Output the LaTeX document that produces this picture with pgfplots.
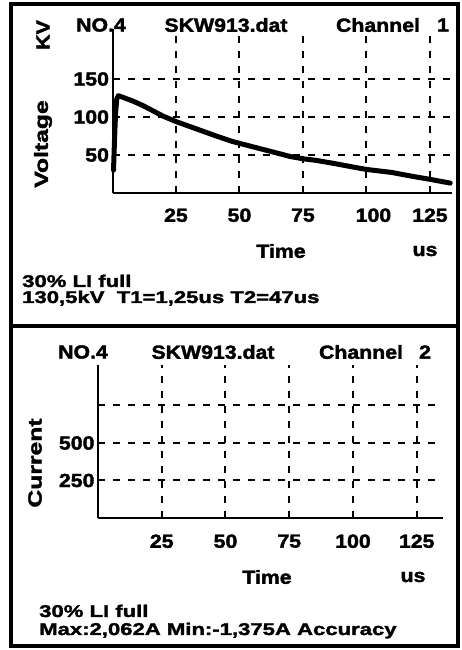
\documentclass[border=0pt]{standalone}
\usepackage{pgfplots}
\pgfplotsset{compat=1.18}
\usepackage{fontspec}
\setmainfont{Liberation Sans}
\newfontfamily\hfont{Liberation Sans}[FakeStretch=1.12, FakeBold=2]
\newfontfamily\wfont{Liberation Sans}[FakeStretch=1.3, FakeBold=2]
\newcommand\hf{\hfont\bfseries\fontsize{19}{19}\selectfont}
\newcommand\wf{\wfont\bfseries\fontsize{17}{17}\selectfont}
\newcommand\vf{\wfont\bfseries\fontsize{19}{19}\selectfont}
\begin{document}
\begin{tikzpicture}[x=1pt,y=1pt]
\path (0,0) rectangle (461,650);
\draw[line width=3.5pt] (11,646) rectangle (458,4);
\draw[line width=3.5pt] (11,324) -- (458,324);
% ---------- top panel ----------
\begin{axis}[
  at={(112.5pt,457pt)}, anchor=origin, scale only axis,
  width=339.5pt, height=164pt,
  xmin=0, xmax=133.7, ymin=0, ymax=215.8,
  axis x line=bottom, axis y line=left,
  axis line style={-, line width=2pt},
  xtick={25,50,75,100,125}, xticklabels={25,50,75,\hspace*{14pt}100,125},
  ytick={50,100,150}, yticklabels={50,100,150},
  grid=major, major grid style={black, line width=2pt, dash pattern=on 7pt off 8pt},
  major tick length=0pt,
  tick label style={font=\hf},
  /pgf/number format/assume math mode=true,
  xticklabel style={yshift=-12pt},
  clip=false,
]
\addplot[black, line width=5pt, line join=round, line cap=round] coordinates {
(0.4,30) (0.8,70) (1.2,105) (1.7,124) (2.3,128) (4,126) (8,121) (12,115)
(16,108) (20,101) (25,94) (30,88) (35,82) (40,76) (47,68) (55,61) (62,55)
(70,48) (75,45) (80,43) (87,39) (95,34) (100,31) (110,27) (118,22) (125,18) (133,13)
};
\end{axis}
\node[font=\hf] at (101,625) {NO.4};
\node[font=\hf] at (226,625) {SKW913.dat};
\node[font=\hf] at (378,625) {Channel};
\node[font=\hf] at (443,625) {1};
\node[font=\hf, rotate=90] at (43,615) {KV};
\node[font=\vf, rotate=90] at (43,506) {Voltage};
\node[font=\hf] at (281,399) {Time};
\node[font=\hf] at (425,399) {us};
\node[font=\wf, anchor=base west, inner sep=0pt] at (22,363) {30\% LI full};
\node[font=\wf, anchor=base west, inner sep=0pt] at (22,347) {130,5kV\ \ T1=1,25us T2=47us};
% ---------- bottom panel ----------
\begin{axis}[
  at={(98pt,132pt)}, anchor=origin, scale only axis,
  width=345pt, height=153pt,
  xmin=0, xmax=135.3, ymin=0, ymax=1020,
  axis x line=bottom, axis y line=left,
  axis line style={-, line width=2pt},
  xtick={25,50,75,100,125}, xticklabels={25,50,75,100,125},
  ytick={250,500,750}, yticklabels={250,500,{}},
  grid=major, major grid style={black, line width=2pt, dash pattern=on 7pt off 8pt},
  major tick length=0pt,
  tick label style={font=\hf},
  /pgf/number format/assume math mode=true,
  xticklabel style={yshift=-13pt},
  clip=false,
]
\end{axis}
\node[font=\hf] at (83,298) {NO.4};
\node[font=\hf] at (213,298) {SKW913.dat};
\node[font=\hf] at (361,298) {Channel};
\node[font=\hf] at (425,298) {2};
\node[font=\vf, rotate=90] at (35,187) {Current};
\node[font=\hf] at (267,73) {Time};
\node[font=\hf] at (413,73) {us};
\node[font=\wf, anchor=base west, inner sep=0pt] at (39,33) {30\% LI full};
\node[font=\wf, anchor=base west, inner sep=0pt] at (39,15) {Max:2,062A Min:-1,375A Accuracy};
\end{tikzpicture}
\end{document}
